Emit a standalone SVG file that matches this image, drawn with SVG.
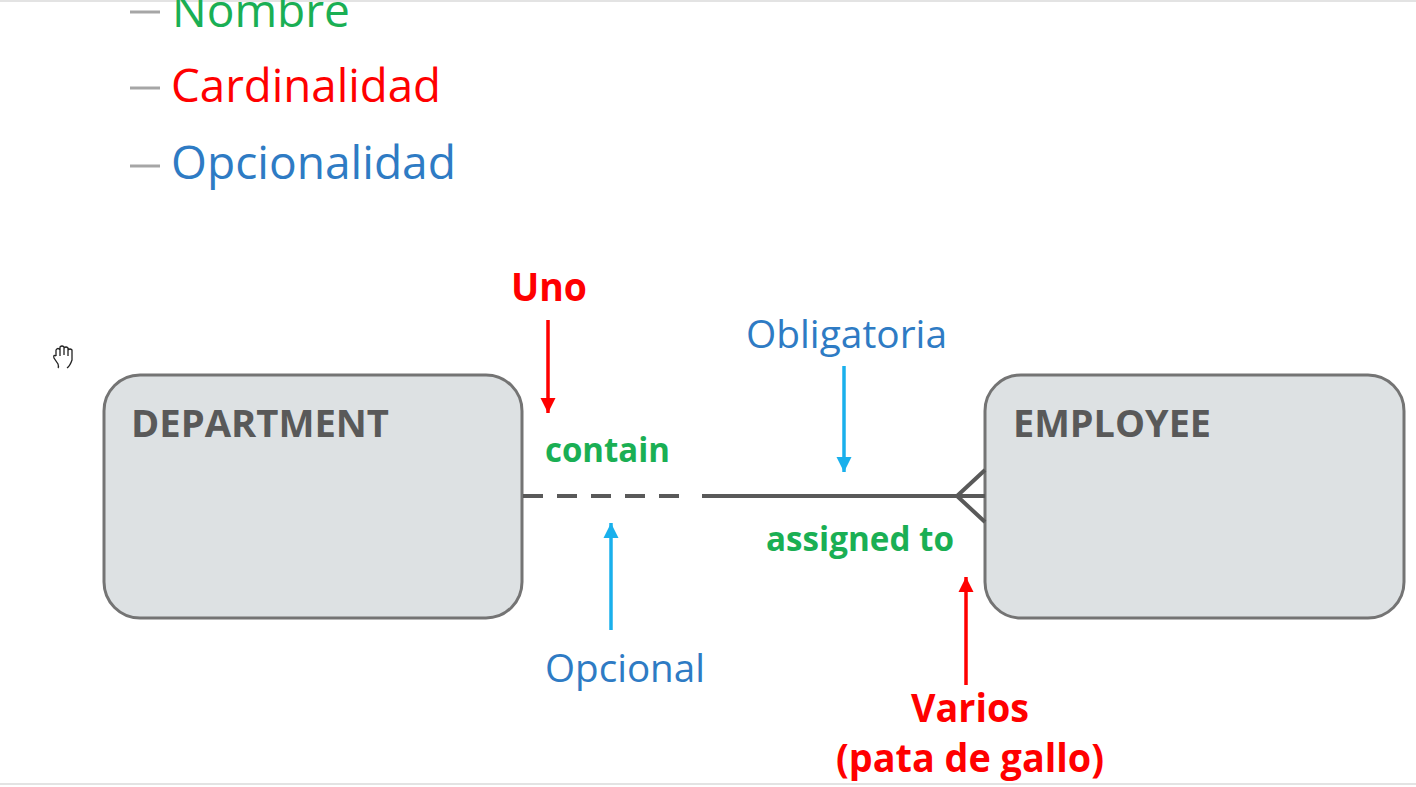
<svg xmlns="http://www.w3.org/2000/svg" width="1416" height="787" viewBox="0 0 1416 787">
<style>
.leg{font-family:"Open Sans","Liberation Sans",sans-serif;font-size:46px}
.dash{stroke:#a6a6a6;stroke-width:3}
.ent{fill:#dde1e3;stroke:#747474;stroke-width:3}
.ename{font-family:"Open Sans","Liberation Sans",sans-serif;font-weight:bold;font-size:38px;fill:#595959}
.b{font-family:"Open Sans","Liberation Sans",sans-serif;font-weight:bold}
.r{font-family:"Open Sans","Liberation Sans",sans-serif}
.red{fill:#ff0000}.grn{fill:#1aaf54}.blu{fill:#2e7bc4}
.conn{stroke:#595959;stroke-width:4;fill:none}
.ar{stroke:#ff0000;stroke-width:3.5}.ab{stroke:#1ab0ec;stroke-width:3.5}
</style>
<defs>
<marker id="hr" markerWidth="4.4" markerHeight="4.4" refX="4.4" refY="2.2" orient="auto" markerUnits="strokeWidth"><path d="M0,0 L4.4,2.2 L0,4.4 z" fill="#ff0000"/></marker>
<marker id="hb" markerWidth="4.4" markerHeight="4.4" refX="4.4" refY="2.2" orient="auto" markerUnits="strokeWidth"><path d="M0,0 L4.4,2.2 L0,4.4 z" fill="#1ab0ec"/></marker>
</defs>
<rect width="1416" height="787" fill="#ffffff"/>
<line x1="0" y1="1" x2="1416" y2="1" stroke="#e3e3e3" stroke-width="2"/>
<line x1="0" y1="784" x2="1416" y2="784" stroke="#e3e3e3" stroke-width="2"/>
<g id="legend">
<line class="dash" x1="130" y1="12" x2="160" y2="12"/>
<text class="leg grn" x="172" y="27" textLength="178" lengthAdjust="spacingAndGlyphs">Nombre</text>
<line class="dash" x1="130" y1="88" x2="160" y2="88"/>
<text class="leg red" x="171" y="102" textLength="270" lengthAdjust="spacingAndGlyphs">Cardinalidad</text>
<line class="dash" x1="130" y1="166" x2="160" y2="166"/>
<text class="leg blu" x="171" y="179" textLength="285" lengthAdjust="spacingAndGlyphs">Opcionalidad</text>
</g>
<g id="cursor" fill="none" stroke="#222" stroke-width="1.3">
<path d="M56,356 L56,350 Q58,347 60,350 L60,356 M60,350 L60,347 Q62,345 64,347 L64,355 M64,348 Q66,346 68,348 L68,356 M68,350 Q70,348 72,350 L72,360 Q70,366 67,368 M56,356 Q53,354 54,358 L58,364 Q59,367 58,368"/>
</g>
<g id="department">
<rect class="ent" x="104" y="375" width="418" height="243" rx="36" ry="36"/>
<text class="ename" x="131" y="437" textLength="258" lengthAdjust="spacingAndGlyphs">DEPARTMENT</text>
</g>
<g id="employee">
<rect class="ent" x="985" y="375" width="419" height="243" rx="36" ry="36"/>
<text class="ename" x="1013" y="437" textLength="198" lengthAdjust="spacingAndGlyphs">EMPLOYEE</text>
</g>
<g id="connectors">
<line class="conn" x1="523" y1="496" x2="690" y2="496" stroke-dasharray="20,14"/>
<line class="conn" x1="702" y1="496" x2="985" y2="496"/>
<polyline class="conn" points="985,470 957,496 985,522" stroke-width="3.5"/>
</g>
<g id="labels">
<text class="b red" x="511" y="301" font-size="40" textLength="76" lengthAdjust="spacingAndGlyphs">Uno</text>
<line class="ar" x1="548" y1="320" x2="548" y2="413" marker-end="url(#hr)"/>
<text class="b grn" x="545" y="462" font-size="34" textLength="125" lengthAdjust="spacingAndGlyphs">contain</text>
<text class="r blu" x="746" y="348" font-size="39" textLength="201" lengthAdjust="spacingAndGlyphs">Obligatoria</text>
<line class="ab" x1="844" y1="366" x2="844" y2="472" marker-end="url(#hb)"/>
<line class="ab" x1="611" y1="630" x2="611" y2="523" marker-end="url(#hb)"/>
<text class="r blu" x="545" y="682" font-size="39" textLength="160" lengthAdjust="spacingAndGlyphs">Opcional</text>
<text class="b grn" x="766" y="551" font-size="34" textLength="188" lengthAdjust="spacingAndGlyphs">assigned to</text>
<line class="ar" x1="966" y1="685" x2="966" y2="577" marker-end="url(#hr)"/>
<text class="b red" x="911" y="722" font-size="40" textLength="118" lengthAdjust="spacingAndGlyphs">Varios</text>
<text class="b red" x="836" y="772" font-size="40" textLength="268" lengthAdjust="spacingAndGlyphs">(pata de gallo)</text>
</g>
</svg>
